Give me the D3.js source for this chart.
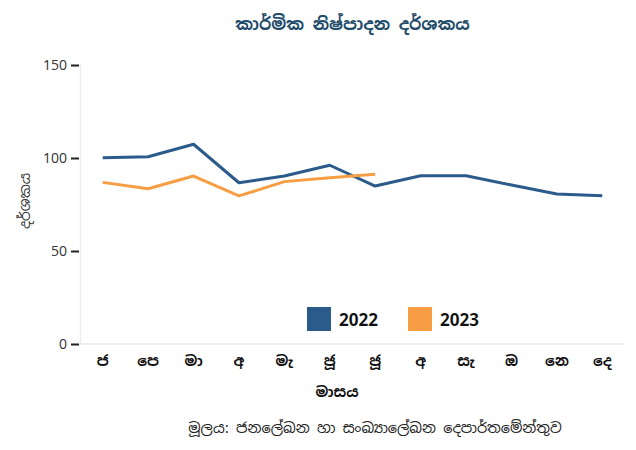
<!DOCTYPE html>
<html>
<head>
<meta charset="utf-8">
<script src="https://cdn.jsdelivr.net/npm/d3@7"></script>
<style>
  body { margin: 0; background: #fff; }
  text { font-family: "Noto Sans Sinhala", "Noto Sans", "Open Sans", sans-serif; }
</style>
</head>
<body>
<svg id="chart"></svg>
<script>
// months (Sinhala abbreviations)
var months = ['ජ', 'පෙ', 'මා', 'අ', 'මැ', 'ජූ', 'ජූ', 'අ', 'සැ', 'ඔ', 'නෙ', 'දෙ'];
var monthKeys = ['1', '2', '3', '4', '5', '6', '7', '8', '9', '10', '11', '12'];
var values2022 = [100.2, 100.7, 107.4, 86.7, 90.3, 96.1, 84.9, 90.5, 90.5, 85.5, 80.6, 79.7];
var values2023 = [86.9, 83.5, 90.3, 79.6, 87.3, 89.4, 91.2];
var yTicks = [0, 50, 100, 150];
var seriesNames = ['2022', '2023'];

var W = 636, H = 450;
var margin = { top: 65, right: 11, bottom: 106, left: 80 },
    width = W - margin.left - margin.right,
    height = H - margin.top - margin.bottom;

var colors = ['#2a5b8a', '#f79d43'];

var svg = d3.select('#chart').attr('width', W).attr('height', H);

var x = d3.scaleBand().domain(monthKeys).range([0, width]);
var y = d3.scaleLinear().domain([0, 150]).range([height, 0]);

var g = svg.append('g')
    .attr('transform', 'translate(' + margin.left + ',' + margin.top + ')');

// title
svg.append('text')
    .attr('x', margin.left + width / 2)
    .attr('y', 30)
    .attr('text-anchor', 'middle')
    .attr('font-size', 17)
    .attr('font-weight', 'bold')
    .attr('fill', '#1f4d6b')
    .text('කාර්මික නිෂ්පාදන දර්ශකය');

// bottom baseline
g.append('line')
    .attr('x1', 0).attr('x2', width)
    .attr('y1', height).attr('y2', height)
    .attr('stroke', '#eeeeee').attr('stroke-width', 2);

// y axis
var yAxis = g.append('g')
    .call(d3.axisLeft(y).tickValues(yTicks).tickSize(9).tickPadding(4));
yAxis.select('.domain').attr('stroke', '#eeeeee').attr('stroke-width', 1.5);
yAxis.selectAll('.tick line').attr('stroke', '#222').attr('stroke-width', 2)
    .attr('x1', -1);
yAxis.selectAll('.tick text').attr('font-size', 14).attr('fill', '#333');

// x axis labels
var xAxis = g.append('g')
    .attr('transform', 'translate(0,' + height + ')')
    .call(d3.axisBottom(x).tickSize(0).tickPadding(12)
        .tickFormat(function (d, i) { return months[i]; }));
xAxis.select('.domain').remove();
xAxis.selectAll('.tick text').attr('font-size', 14.5).attr('font-weight', 'bold').attr('fill', '#111');

// axis titles
svg.append('text')
    .attr('x', 337)
    .attr('y', 397)
    .attr('text-anchor', 'middle')
    .attr('font-size', 14.5)
    .attr('font-weight', 'bold')
    .attr('fill', '#111')
    .text('මාසය');

svg.append('text')
    .attr('transform', 'translate(30,201) rotate(-90)')
    .attr('text-anchor', 'middle')
    .attr('font-size', 14)
    .attr('fill', '#333')
    .text('දර්ශකය');

// lines
var line = d3.line()
    .x(function (d, i) { return x(monthKeys[i]) + x.bandwidth() / 2; })
    .y(function (d) { return y(d); });

[values2022, values2023].forEach(function (vals, i) {
    g.append('path')
        .datum(vals)
        .attr('fill', 'none')
        .attr('stroke', colors[i])
        .attr('stroke-width', 3)
        .attr('stroke-linejoin', 'round')
        .attr('d', line);
});

// legend
var legendX = [307, 408];
seriesNames.forEach(function (name, i) {
    svg.append('rect')
        .attr('x', legendX[i]).attr('y', 307)
        .attr('width', 24).attr('height', 24)
        .attr('fill', colors[i]);
    svg.append('text')
        .attr('x', legendX[i] + 32).attr('y', 326)
        .attr('font-size', 17).attr('font-weight', 'bold')
        .attr('fill', '#111')
        .text(name);
});

// source
svg.append('text')
    .attr('x', 375)
    .attr('y', 433)
    .attr('text-anchor', 'middle')
    .attr('font-size', 14.5)
    .attr('fill', '#222')
    .text('මූලය: ජනලේඛන හා සංඛ්‍යාලේඛන දෙපාර්තමේන්තුව');
</script>
</body>
</html>
